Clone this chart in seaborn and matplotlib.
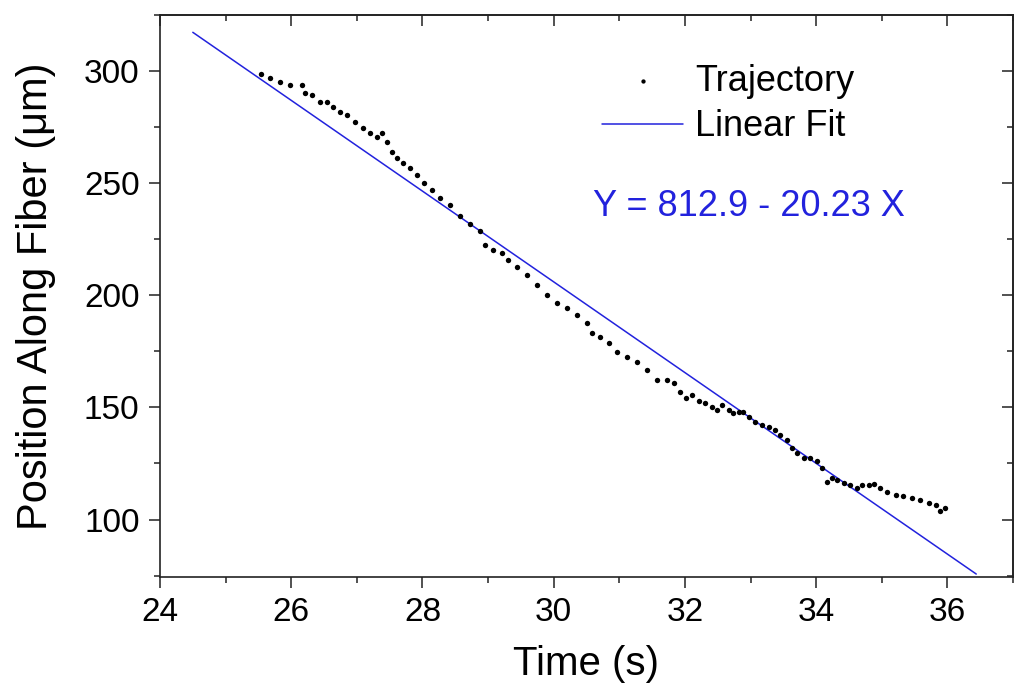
import matplotlib
matplotlib.use("Agg")
import matplotlib.pyplot as plt
import seaborn as sns
import pandas as pd
from matplotlib.ticker import MultipleLocator

# ---- data ----
time_s = [25.54, 25.68, 25.83, 25.98, 26.16, 26.21, 26.31, 26.44, 26.54, 26.64,
          26.74, 26.85, 26.97, 27.10, 27.20, 27.30, 27.38, 27.46, 27.53, 27.61,
          27.71, 27.81, 27.91, 28.02, 28.14, 28.27, 28.42, 28.57, 28.73, 28.88,
          28.96, 29.08, 29.21, 29.31, 29.44, 29.59, 29.74, 29.90, 30.05, 30.20,
          30.35, 30.51, 30.58, 30.71, 30.84, 30.96, 31.12, 31.27, 31.42, 31.57,
          31.73, 31.83, 31.93, 32.01, 32.11, 32.21, 32.31, 32.41, 32.49, 32.56,
          32.67, 32.74, 32.82, 32.89, 32.97, 33.07, 33.17, 33.28, 33.38, 33.45,
          33.56, 33.63, 33.71, 33.81, 33.91, 34.01, 34.09, 34.17, 34.24, 34.32,
          34.42, 34.52, 34.62, 34.70, 34.80, 34.88, 34.98, 35.08, 35.21, 35.33,
          35.46, 35.59, 35.72, 35.82, 35.89, 35.97]
position_um = [298.7, 296.8, 295.3, 293.8, 293.8, 290.1, 289.3, 286.4, 286.4, 284.1,
               281.9, 280.4, 277.4, 274.5, 272.3, 270.8, 272.3, 268.5, 264.1, 261.1,
               258.9, 256.7, 253.7, 250.0, 247.0, 243.3, 240.3, 235.2, 231.8, 228.6,
               222.5, 220.2, 218.8, 215.8, 212.8, 209.1, 204.6, 200.2, 196.5, 194.2,
               191.3, 187.5, 183.1, 181.6, 178.6, 174.9, 172.7, 170.4, 166.7, 162.3,
               162.3, 160.8, 156.7, 154.1, 155.6, 152.8, 151.9, 150.4, 148.9, 151.1,
               148.9, 147.4, 148.1, 148.1, 145.9, 143.7, 142.2, 141.4, 140.0, 137.7,
               135.5, 131.8, 129.6, 127.4, 127.4, 125.9, 122.9, 116.9, 118.4, 117.7,
               116.2, 115.5, 114.0, 115.5, 115.5, 115.9, 114.0, 112.5, 111.0, 110.3,
               109.5, 108.8, 107.3, 106.6, 104.0, 105.0]
fit_time = [24.5, 36.44]
fit_position = [317.3, 75.7]
x_ticks = [24, 26, 28, 30, 32, 34, 36]
y_ticks = [100, 150, 200, 250, 300]
series_labels = ["Trajectory", "Linear Fit"]
equation_text = "Y = 812.9 - 20.23 X"
x_label = "Time (s)"
y_label = "Position Along Fiber (\u03bcm)"

BLUE = "#2222dd"
SPINE = "#222222"

sns.set_style("ticks")
plt.rcParams["font.family"] = ["Liberation Sans", "DejaVu Sans"]
plt.rcParams["text.color"] = "black"
plt.rcParams["axes.labelcolor"] = "black"
plt.rcParams["xtick.color"] = "black"
plt.rcParams["ytick.color"] = "black"

fig = plt.figure(figsize=(10.24, 7.0), dpi=100)
ax = fig.add_axes([0.15625, 0.1761, 0.833, 0.8024])

df = pd.DataFrame({"Time": time_s, "Position": position_um})
sns.scatterplot(data=df, x="Time", y="Position", ax=ax, color="black", s=15,
                marker="o", linewidth=0, label=series_labels[0], zorder=3)
sns.lineplot(x=fit_time, y=fit_position, ax=ax, color=BLUE, linewidth=1.1,
             label=series_labels[1], zorder=2)

ax.set_xlim(24, 37)
ax.set_ylim(74.5, 325)
ax.set_xticks(x_ticks)
ax.set_yticks(y_ticks)
ax.xaxis.set_minor_locator(MultipleLocator(1))
ax.yaxis.set_minor_locator(MultipleLocator(25))

for sp in ax.spines.values():
    sp.set_color(SPINE)
    sp.set_linewidth(1.2)

ax.tick_params(which="both", direction="out", width=1.1, color=SPINE,
               labelcolor="black", top=False, right=False, labelsize=24)
ax.tick_params(which="major", length=7.7, pad=7)
ax.tick_params(which="minor", length=4)

secx = ax.secondary_xaxis("top")
secx.set_xticks(x_ticks)
secx.xaxis.set_minor_locator(MultipleLocator(1))
secx.tick_params(which="both", direction="in", width=1.1, color=SPINE, labeltop=False)
secx.tick_params(which="major", length=7.7)
secx.tick_params(which="minor", length=4)
secx.spines["top"].set_color(SPINE)
secx.spines["top"].set_linewidth(1.2)

secy = ax.secondary_yaxis("right")
secy.set_yticks(y_ticks)
secy.yaxis.set_minor_locator(MultipleLocator(25))
secy.tick_params(which="both", direction="in", width=1.1, color=SPINE, labelright=False)
secy.tick_params(which="major", length=7.7)
secy.tick_params(which="minor", length=4)
secy.spines["right"].set_color(SPINE)
secy.spines["right"].set_linewidth(1.2)

ax.set_xlabel(x_label, fontsize=29, labelpad=12, color="black")
ax.set_ylabel(y_label, fontsize=30, labelpad=20, color="black")

leg = ax.legend(loc="center left", bbox_to_anchor=(0.5879, 0.8514),
                bbox_transform=fig.transFigure, frameon=False, fontsize=26,
                handlelength=2.25, handletextpad=0.33, labelspacing=0.3,
                borderpad=0, borderaxespad=0, scatterpoints=1, markerscale=0.8)
for t in leg.get_texts():
    t.set_color("black")

fig.text(593 / 1024, 1 - 206 / 700, equation_text, color=BLUE, fontsize=26,
         ha="left", va="center")

fig.savefig("out.png", dpi=100)
